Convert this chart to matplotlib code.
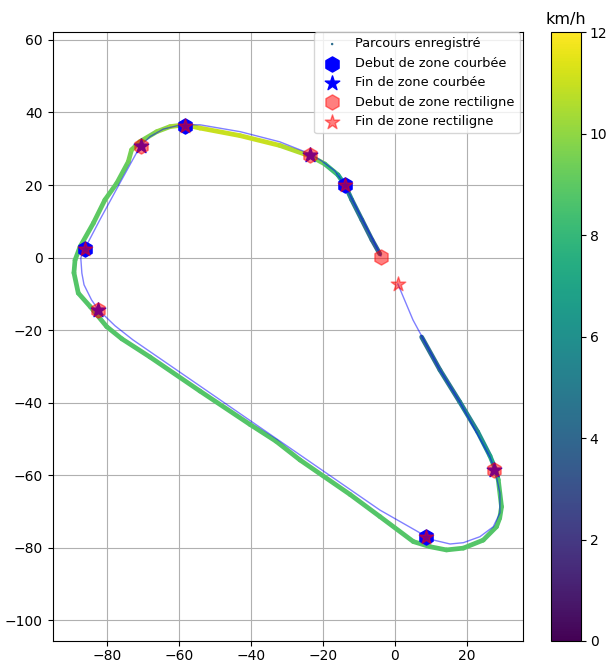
import numpy as np
import matplotlib
matplotlib.use('Agg')
import matplotlib.pyplot as plt
from matplotlib.collections import LineCollection
from matplotlib.colors import Normalize
from matplotlib.cm import ScalarMappable


track_x = [7.5, 12.6, 18.1, 23.1, 26.5, 28.1, 28.8, 29.7, 29.2, 28.3, 24.6, 19.1, 14.4, 9.8, 5.2,
           -4.1, -12.4, -26.3, -33.0, -40.2, -54.1, -68.0, -75.8, -80.0, -84.6, -87.9, -89.1,
           -88.8, -87.4, -83.7, -80.5, -77.2, -74.0, -73.1, -70.75, -66.1, -62.4, -58.25, -54.1,
           -42.9, -31.9, -23.5, -19.4, -15.75, -13.8, -11.9, -9.1, -6.3, -4.1]
track_y = [-21.9, -31.0, -39.8, -48.1, -54.7, -58.6, -61.3, -68.7, -71.8, -74.2, -77.9, -80.1,
           -80.6, -79.7, -78.3, -71.4, -65.3, -55.8, -50.6, -46.0, -36.8, -27.4, -22.4, -19.05,
           -13.5, -9.8, -4.2, -0.7, 3.0, 9.5, 15.9, 20.5, 26.4, 29.7, 31.96, 34.7, 36.1, 36.6,
           35.7, 33.6, 30.9, 28.0, 25.8, 22.8, 20.0, 15.9, 10.4, 4.9, 1.0]
speed = [4.3, 4.5, 5.0, 5.5, 6.5, 7.8, 8.6, 8.8, 8.8, 8.8, 8.8, 8.8, 8.8, 8.8, 8.8,
         8.8, 8.8, 8.9, 8.8, 8.8, 8.8, 8.8, 8.8, 8.8, 8.8, 8.8, 8.8, 8.8,
         8.9, 9.0, 9.0, 9.0, 9.2, 9.8, 9.5, 9.8, 10.2, 10.6, 11.0, 11.0,
         11.0, 10.2, 8.8, 7.8, 6.0, 5.0, 4.5, 4.2, 3.6]

# reference path
ref_x = [0.9, 5.1, 12.6, 18.1, 26.5, 27.9, 29.25, 29.25, 27.4, 23.7, 19.1, 15.4, 10.7, 8.9,
         -4.1, -26.3, -54.1, -72.7, -77.7, -82.3, -84.2, -86.3, -86.9, -87.2, -86.0, -81.9,
         -76.3, -70.75, -68.0, -64.3, -60.6, -58.25, -54.1, -42.9, -31.9, -23.5, -20.2, -16.6,
         -13.8, -9.6, -6.3, -3.8]
ref_y = [-7.3, -17.2, -31.0, -39.8, -55.0, -58.6, -64.9, -70.4, -74.2, -76.95, -78.6, -78.96,
         -77.85, -76.95, -69.6, -54.4, -35.4, -22.7, -18.8, -14.4, -11.7, -7.5, -4.3, -0.1, 2.6,
         10.4, 20.6, 30.6, 33.3, 35.4, 36.3, 36.6, 36.6, 34.7, 31.9, 28.6, 26.6, 23.9, 20.0,
         11.7, 5.4, 0.45]

# zone markers
curve_start_x = [-58.3, -86.0, -13.9, 8.7]
curve_start_y = [36.4, 2.4, 20.0, -77.0]
curve_end_x = [-70.4, -82.4, -23.5, 27.6]
curve_end_y = [30.8, -14.4, 28.3, -58.6]
straight_start_x = [-70.4, -82.4, -23.5, 27.6, -3.8]
straight_start_y = [30.8, -14.4, 28.3, -58.6, 0.1]
straight_end_x = [-58.3, -86.0, -13.9, 8.7, 0.8]
straight_end_y = [36.4, 2.4, 20.0, -77.0, -7.35]


fig = plt.figure(figsize=(6.08, 6.63), dpi=100)
ax = fig.add_axes([0.0867, 0.0332, 0.7731, 0.9181])
cax = fig.add_axes([0.9058, 0.0332, 0.0503, 0.9181])

cmap = plt.get_cmap('viridis')
norm = Normalize(vmin=0, vmax=12)

ax.grid(True, color='#b0b0b0', linewidth=0.8)

# thick coloured band for the recorded track
pts = np.column_stack([track_x, track_y]).reshape(-1, 1, 2)
segs = np.concatenate([pts[:-1], pts[1:]], axis=1)
seg_speed = (np.array(speed[:-1]) + np.array(speed[1:])) / 2
lc = LineCollection(segs, cmap=cmap, norm=norm, linewidths=3.4, capstyle='round', zorder=2)
lc.set_array(seg_speed)
ax.add_collection(lc)

ax.scatter(track_x, track_y, c=speed, cmap=cmap, norm=norm, s=0.6, zorder=2,
           label='Parcours enregistré')

ax.plot(ref_x, ref_y, color='blue', alpha=0.5, linewidth=1, zorder=3)

ax.scatter(curve_start_x, curve_start_y, marker='h', color='blue', s=120, zorder=4,
           label='Debut de zone courbée')
ax.scatter(curve_end_x, curve_end_y, marker='*', color='blue', s=120, zorder=4,
           label='Fin de zone courbée')
ax.scatter(straight_start_x, straight_start_y, marker='h', color='red', alpha=0.5, s=120,
           zorder=4, label='Debut de zone rectiligne')
ax.scatter(straight_end_x, straight_end_y, marker='*', color='red', alpha=0.5, s=120,
           zorder=4, label='Fin de zone rectiligne')

ax.set_xlim(-95.0, 35.6)
ax.set_ylim(-105.7, 62.1)
ax.set_xticks([-80, -60, -40, -20, 0, 20])
ax.set_yticks([-100, -80, -60, -40, -20, 0, 20, 40, 60])
ax.tick_params(axis='x', pad=2.5)

ax.legend(loc='upper right', bbox_to_anchor=(0.994, 1.0), borderaxespad=0, fontsize=9.3)

sm = ScalarMappable(norm=norm, cmap=cmap)
cb = fig.colorbar(sm, cax=cax)
cb.set_ticks([0, 2, 4, 6, 8, 10, 12])
cax.tick_params(pad=2.5)
cax.set_title('km/h', fontsize=11.5)

fig.savefig('out.png', dpi=100)
